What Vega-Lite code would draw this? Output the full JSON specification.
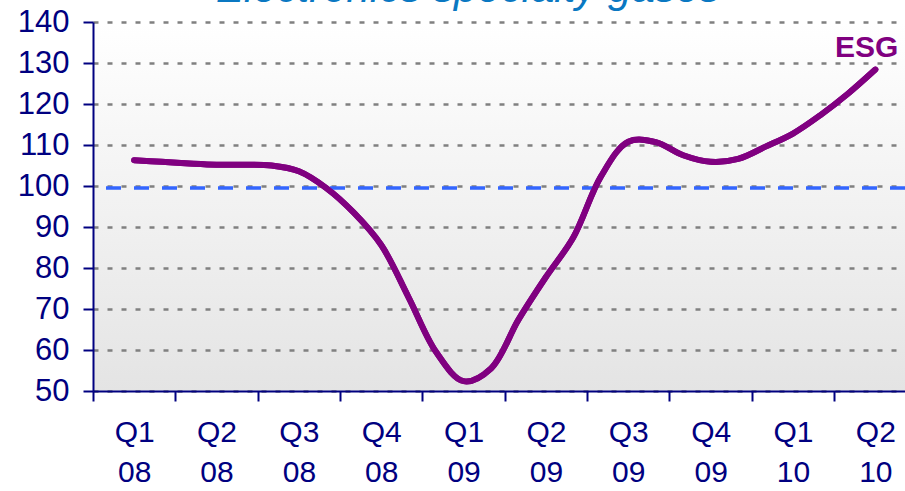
{
  "$schema": "https://vega.github.io/schema/vega-lite/v6.json",
  "width": 812,
  "height": 369,
  "autosize": {"type": "none"},
  "padding": {"left": 93, "top": 22, "right": 0, "bottom": 100},
  "background": "white",
  "view": {
    "stroke": null,
    "fill": {"gradient": "linear", "x1": 0, "y1": 0, "x2": 0, "y2": 1,
      "stops": [{"offset": 0, "color": "#ffffff"}, {"offset": 1, "color": "#e4e4e4"}]}
  },
  "title": {
    "text": "Electronics specialty gases",
    "font": "Liberation Sans",
    "fontSize": 42,
    "fontStyle": "italic",
    "fontWeight": "normal",
    "color": "#0a78c2",
    "frame": "group",
    "anchor": "middle",
    "baseline": "alphabetic",
    "offset": -38,
    "dx": -31
  },
  "datasets": {
    "esg": [
      {"q": 0.5, "value": 106.3},
      {"q": 0.8333, "value": 105.9},
      {"q": 1.1667, "value": 105.5},
      {"q": 1.5, "value": 105.2},
      {"q": 1.8333, "value": 105.2},
      {"q": 2.1667, "value": 105.0},
      {"q": 2.5, "value": 103.6},
      {"q": 2.8333, "value": 99.5},
      {"q": 3.1667, "value": 93.5},
      {"q": 3.5, "value": 85.6},
      {"q": 3.8333, "value": 72.8},
      {"q": 4.1667, "value": 59.5},
      {"q": 4.5, "value": 52.4},
      {"q": 4.8333, "value": 55.5},
      {"q": 5.1667, "value": 67.4},
      {"q": 5.5, "value": 77.8},
      {"q": 5.8333, "value": 87.5},
      {"q": 6.1667, "value": 102.3},
      {"q": 6.5, "value": 110.8},
      {"q": 6.8333, "value": 110.7},
      {"q": 7.1667, "value": 107.5},
      {"q": 7.5, "value": 105.9},
      {"q": 7.8333, "value": 106.6},
      {"q": 8.1667, "value": 109.6},
      {"q": 8.5, "value": 112.8},
      {"q": 8.8333, "value": 117.3},
      {"q": 9.1667, "value": 122.5},
      {"q": 9.5, "value": 128.4}
    ],
    "labels": [
      {"label": "ESG", "q": 9.78, "value": 131.5}
    ],
    "reference": [
      {"value": 99.5}
    ]
  },
  "layer": [
    {
      "data": {"name": "esg"},
      "mark": {"type": "line", "color": "#800080", "strokeWidth": 6, "interpolate": "catmull-rom", "strokeCap": "round", "strokeJoin": "round"},
      "encoding": {
        "x": {
          "field": "q", "type": "quantitative",
          "scale": {"domain": [0, 9.86], "nice": false, "zero": false},
          "axis": {
            "values": [0, 0.5, 1, 1.5, 2, 2.5, 3, 3.5, 4, 4.5, 5, 5.5, 6, 6.5, 7, 7.5, 8, 8.5, 9, 9.5],
            "grid": false,
            "title": null,
            "domainColor": "#000080",
            "domainWidth": 2,
            "tickColor": "#000080",
            "tickWidth": 2,
            "tickSize": 10,
            "tickOpacity": {"condition": {"test": "datum.value % 1 != 0", "value": 0}, "value": 1},
            "labelExpr": "datum.value % 1 == 0 ? '' : [['Q1','Q2','Q3','Q4'][floor(datum.value) % 4], ['08','08','08','08','09','09','09','09','10','10'][floor(datum.value)]]",
            "labelFont": "Liberation Sans",
            "labelFontSize": 30,
            "labelColor": "#000080",
            "labelPadding": 16,
            "labelLineHeight": 40,
            "labelBaseline": "top",
            "labelFlush": false,
            "labelOverlap": false
          }
        },
        "y": {
          "field": "value", "type": "quantitative",
          "scale": {"domain": [50, 140], "nice": false, "zero": false},
          "axis": {
            "values": [50, 60, 70, 80, 90, 100, 110, 120, 130, 140],
            "grid": true,
            "gridColor": "#808080",
            "gridDash": [5, 9],
            "gridWidth": 2.5,
            "title": null,
            "domainColor": "#000080",
            "domainWidth": 2,
            "tickColor": "#000080",
            "tickWidth": 2,
            "tickSize": 10,
            "labelFont": "Liberation Sans",
            "labelFontSize": 31,
            "labelColor": "#000080",
            "labelPadding": 14,
            "labelFlush": false,
            "labelOverlap": false
          }
        }
      }
    },
    {
      "data": {"name": "reference"},
      "mark": {"type": "rule", "color": "#3366ff", "strokeWidth": 3.5, "strokeDash": [15, 13]},
      "encoding": {"y": {"field": "value", "type": "quantitative"}}
    },
    {
      "data": {"name": "esg"},
      "mark": {"type": "line", "color": "#800080", "strokeWidth": 6, "interpolate": "catmull-rom", "strokeCap": "round", "strokeJoin": "round"},
      "encoding": {
        "x": {"field": "q", "type": "quantitative"},
        "y": {"field": "value", "type": "quantitative"}
      }
    },
    {
      "data": {"name": "labels"},
      "mark": {"type": "text", "align": "right", "baseline": "alphabetic", "font": "Liberation Sans", "fontSize": 30, "fontWeight": "bold", "color": "#800080"},
      "encoding": {
        "x": {"field": "q", "type": "quantitative"},
        "y": {"field": "value", "type": "quantitative"},
        "text": {"field": "label"}
      }
    }
  ]
}
